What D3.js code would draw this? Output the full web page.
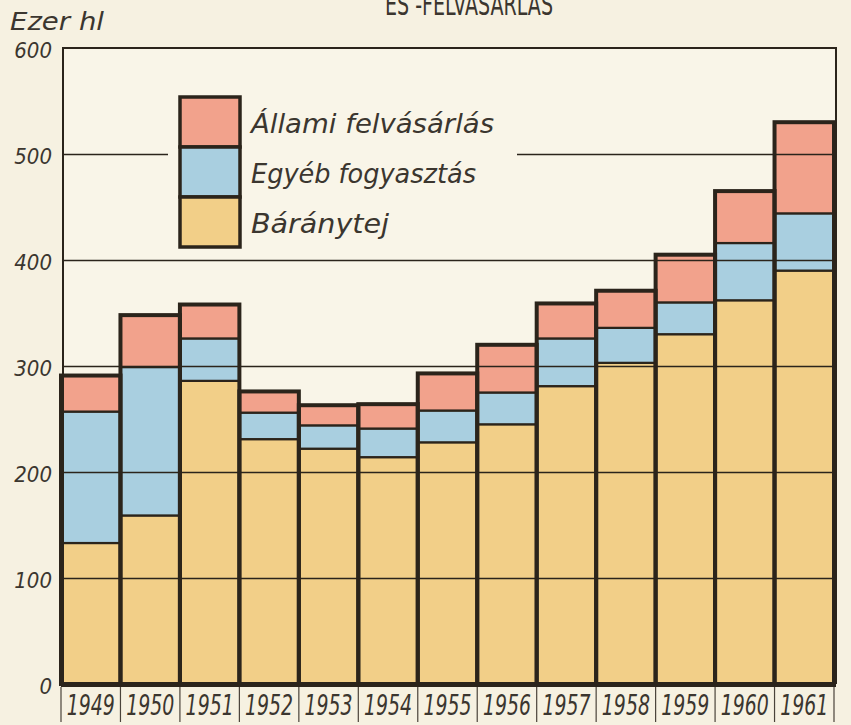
<!DOCTYPE html>
<html>
<head>
<meta charset="utf-8">
<script src="https://cdn.jsdelivr.net/npm/d3@7"></script>
<style>
  html, body { margin: 0; padding: 0; background: #f6f1e1; }
  svg { display: block; }
  .lab { font-family: "Liberation Sans Narrow", "DejaVu Sans Condensed", "Liberation Sans", sans-serif; font-style: italic; fill: #3b362f; }
</style>
</head>
<body>
<svg id="chart" width="851" height="725"></svg>
<script>
const years = ["1949","1950","1951","1952","1953","1954","1955","1956","1957","1958","1959","1960","1961"];
const barany = [133, 159, 286, 231, 222, 214, 228, 245, 281, 303, 330, 362, 390];
const egyeb  = [124, 140,  40,  25,  22,  27,  30,  30,  45,  33,  30,  54,  54];
const allami = [ 34,  49,  32,  20,  19,  23,  35,  45,  33,  35,  45,  49,  86];
const seriesNames = ["Báránytej", "Egyéb fogyasztás", "Állami felvásárlás"];
const yTicks = [0, 100, 200, 300, 400, 500, 600];
const colors = ["#f2cf88", "#a9cfe0", "#f2a28c"];

const svg = d3.select("#chart");
const ink = "#2b241b";
const fontStack = "Liberation Sans Narrow, DejaVu Sans Condensed, sans-serif";

const x = d3.scaleBand().domain(years).range([61, 834]).padding(0);
const y = d3.scaleLinear().domain([0, 600]).range([684, 48]);

const rows = years.map((yr, i) => ({ year: yr, b: barany[i], e: egyeb[i], a: allami[i] }));
const stack = d3.stack().keys(["b", "e", "a"]);
const layers = stack(rows);

// Title (cut off at top, as in the reference)
svg.append("text")
  .attr("x", 469).attr("y", 15)
  .attr("text-anchor", "middle")
  .attr("font-family", fontStack)
  .attr("font-size", 30)
  .attr("fill", "#3b362f")
  .attr("textLength", 168).attr("lengthAdjust", "spacingAndGlyphs")
  .text("ÉS -FELVÁSÁRLÁS");

// Unit label
svg.append("text").attr("class", "lab")
  .attr("x", 10).attr("y", 30)
  .attr("font-size", 25)
  .attr("textLength", 94).attr("lengthAdjust", "spacingAndGlyphs")
  .text("Ezer hl");

// Plot area background
svg.append("rect")
  .attr("x", 63).attr("y", y(600))
  .attr("width", 836 - 63).attr("height", y(0) - y(600))
  .attr("fill", "#f9f5e8");

// Bars (segments)
const gBars = svg.append("g");
layers.forEach((layer, li) => {
  gBars.selectAll(null)
    .data(layer)
    .enter().append("rect")
    .attr("x", d => x(d.data.year))
    .attr("width", x.bandwidth())
    .attr("y", d => y(d[1]))
    .attr("height", d => y(d[0]) - y(d[1]))
    .attr("fill", colors[li])
    .attr("stroke", ink)
    .attr("stroke-width", 2.2);
});

// Gridlines (over the bars)
const grid = d3.axisLeft(y).tickValues(yTicks.filter(v => v > 0 && v < 600))
  .tickSize(-(836 - 63)).tickFormat("");
const gGrid = svg.append("g").attr("transform", "translate(63,0)").call(grid);
gGrid.select(".domain").remove();
gGrid.selectAll(".tick line").attr("stroke", ink).attr("stroke-width", 1.4);

// Thick outlines of each whole bar
svg.append("g").selectAll("rect")
  .data(rows)
  .enter().append("rect")
  .attr("x", d => x(d.year))
  .attr("width", x.bandwidth())
  .attr("y", d => y(d.b + d.e + d.a))
  .attr("height", d => y(0) - y(d.b + d.e + d.a))
  .attr("fill", "none")
  .attr("stroke", ink)
  .attr("stroke-width", 4);

// Frame (top, right, left)
svg.append("path")
  .attr("d", `M63,${y(0)} V${y(600)} H836 V${y(0)}`)
  .attr("fill", "none").attr("stroke", ink).attr("stroke-width", 2);

// Baseline
svg.append("line")
  .attr("x1", 61).attr("x2", 836).attr("y1", y(0) + 1).attr("y2", y(0) + 1)
  .attr("stroke", ink).attr("stroke-width", 4);

// Y axis labels
const yAxis = d3.axisLeft(y).tickValues(yTicks).tickSize(0).tickPadding(0).tickFormat(d3.format("d"));
const gY = svg.append("g").attr("transform", "translate(52,0)").call(yAxis);
gY.select(".domain").remove();
gY.selectAll("text")
  .attr("font-size", 22)
  .attr("dy", "0.42em")
  .style("font-family", fontStack)
  .style("font-style", "italic")
  .attr("fill", "#3b362f");

// X axis labels with separators
const xAxis = d3.axisBottom(x).tickSize(0).tickPadding(0);
const gX = svg.append("g").attr("transform", `translate(0,${y(0)})`).call(xAxis);
gX.select(".domain").remove();
gX.selectAll("text")
  .attr("y", 0)
  .attr("dy", 0)
  .attr("font-size", 21)
  .attr("transform", "translate(0,31) scale(1,1.35)")
  .style("font-family", fontStack)
  .style("font-style", "italic")
  .attr("fill", "#3b362f");

const bounds = years.map(yr => x(yr)).concat([x(years[years.length - 1]) + x.bandwidth()]);
svg.append("g").selectAll("line")
  .data(bounds)
  .enter().append("line")
  .attr("x1", d => d).attr("x2", d => d)
  .attr("y1", y(0) + 3).attr("y2", 722)
  .attr("stroke", "#4a433a").attr("stroke-width", 1.2);

// Legend
const legX = 180, legY = 97, sw = 60, sh = 50;
svg.append("rect")
  .attr("x", 168).attr("y", legY - 2).attr("width", 517 - 168).attr("height", 3 * sh + 4)
  .attr("fill", "#f9f5e8");
const legendItems = [
  { name: seriesNames[2], color: colors[2], w: 243 },
  { name: seriesNames[1], color: colors[1], w: 225 },
  { name: seriesNames[0], color: colors[0], w: 138 }
];
const gL = svg.append("g");
legendItems.forEach((it, i) => {
  gL.append("rect")
    .attr("x", legX).attr("y", legY + i * sh)
    .attr("width", sw).attr("height", sh)
    .attr("fill", it.color).attr("stroke", ink).attr("stroke-width", 3.5);
  gL.append("text").attr("class", "lab")
    .attr("x", legX + 71).attr("y", legY + i * sh + 36)
    .attr("font-size", 27)
    .attr("textLength", it.w).attr("lengthAdjust", "spacingAndGlyphs")
    .text(it.name);
});
</script>
</body>
</html>
